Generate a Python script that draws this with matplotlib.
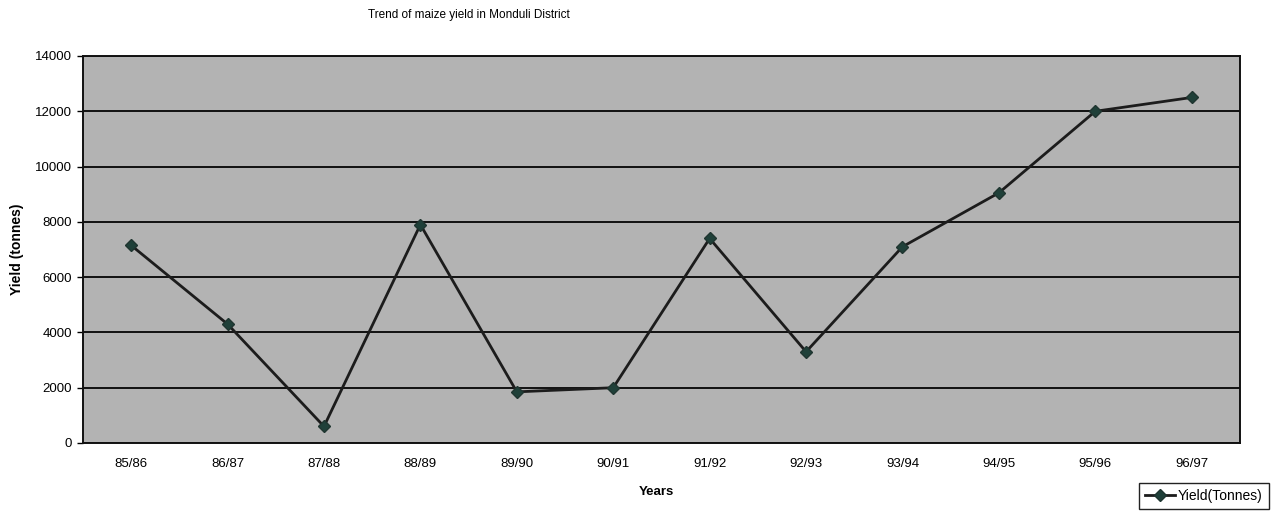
import numpy as np
import matplotlib
matplotlib.use("Agg")
import matplotlib.pyplot as plt

years = ["85/86", "86/87", "87/88", "88/89", "89/90", "90/91",
         "91/92", "92/93", "93/94", "94/95", "95/96", "96/97"]
yield_t = [7150, 4300, 600, 7900, 1850, 2000,
           7400, 3300, 7100, 9050, 12000, 12500]
y_ticks = [0, 2000, 4000, 6000, 8000, 10000, 12000, 14000]

plt.rcParams['font.family'] = ['Liberation Sans', 'DejaVu Sans']

fig = plt.figure(figsize=(12.82, 5.18), dpi=100)
ax = fig.add_axes([0.0647, 0.1448, 0.9025, 0.7471])
ax.set_facecolor('#b3b3b3')

x = np.arange(len(years))
line, = ax.plot(x, yield_t, color='#1c1c1c', lw=2,
                marker='D', ms=6, mfc='#1f4039', mec='#1f3530',
                label='Yield(Tonnes)', zorder=3)

ax.set_xlim(-0.5, len(years) - 0.5)
ax.set_ylim(0, 14000)
ax.set_yticks(y_ticks)
ax.set_yticklabels([str(v) for v in y_ticks])
ax.set_xticks(x)
ax.set_xticklabels(years)
ax.tick_params(axis='y', length=4, width=1, labelsize=9.5, pad=4)
ax.tick_params(axis='x', length=0, labelsize=9.5, pad=11)
ax.grid(axis='y', color='#111111', lw=1.4)
ax.set_axisbelow(True)
for s in ax.spines.values():
    s.set_color('#111111')
    s.set_linewidth(1.4)

ax.set_ylabel('Yield (tonnes)', fontsize=10, fontweight='bold', labelpad=8)
fig.text(0.512, 0.05, 'Years', ha='center', va='center',
         fontsize=9.5, fontweight='bold')
fig.text(0.366, 0.972, 'Trend of maize yield in Monduli District',
         ha='center', va='center', fontsize=8.5)

fig.legend(handles=[line], loc='center', bbox_to_anchor=(0.939, 0.0425),
           frameon=True, fancybox=False, edgecolor='#222222',
           fontsize=10, handlelength=2.2, borderpad=0.45,
           handletextpad=0.2, framealpha=1)

fig.savefig('out.png', dpi=100)
